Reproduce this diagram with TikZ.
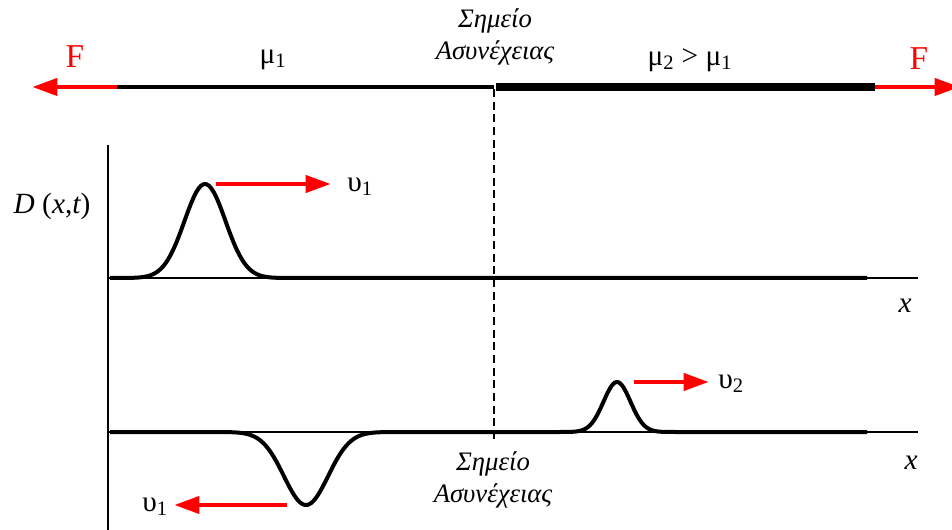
\documentclass[tikz,border=0pt]{standalone}
\usepackage{fontspec}
\setmainfont{Liberation Serif}
\usetikzlibrary{arrows.meta}
\begin{document}
\begin{tikzpicture}[x=0.75pt,y=-0.75pt,
  redarrow/.style={draw=red, line width=3.7pt, -{Triangle[length=19pt,width=12.5pt]}},
  axisline/.style={draw=black, line width=1.8pt},
  wave/.style={draw=black, line width=3pt, line join=round},
  lbl/.style={inner sep=0pt, font=\fontsize{22pt}{24pt}\selectfont},
  flbl/.style={inner sep=0pt, text=red, font=\fontsize{25pt}{27pt}\selectfont},
  greek/.style={inner sep=0pt, align=center, font=\fontsize{20pt}{24pt}\selectfont\itshape},
  xlbl/.style={inner sep=0pt, font=\fontsize{22pt}{24pt}\selectfont\itshape}
]
\useasboundingbox (0,0) rectangle (952,530);

% top string
\coordinate (sL) at (117,87);
\coordinate (sM) at (494,87);
\coordinate (sM2) at (496,87);
\coordinate (sR) at (875,87);
\coordinate (fL) at (32,87);
\coordinate (fR) at (960,87);
\draw[black, line width=2.6pt] (sL) -- (sM);
\draw[black, line width=5.5pt] (sM2) -- (sR);
\draw[redarrow] (sL) -- (fL);
\draw[redarrow] (sR) -- (fR);
\node[flbl] (F1) at (75,57) {F};
\node[flbl] (F2) at (919,59) {F};
\node[lbl] (mu1) at (273,60) {μ\textsubscript{1}};
\node[lbl] (mu2) at (690,60) {μ\textsubscript{2} > μ\textsubscript{1}};
\node[greek] (dtop) at (495,37) {Σημείο\\Ασυνέχειας};

% dashed discontinuity line
\coordinate (dA) at (494,89);
\coordinate (dB) at (494,443);
\draw[black, line width=1.1pt, dash pattern=on 6pt off 3.5pt] (dA) -- (dB);

% axes
\coordinate (vA) at (108,145);
\coordinate (vB) at (108,530);
\draw[axisline] (vA) -- (vB);
\coordinate (a1L) at (108,278);
\coordinate (a1R) at (918,278);
\draw[axisline] (a1L) -- (a1R);
\coordinate (a2L) at (108,432);
\coordinate (a2R) at (918,432);
\draw[axisline] (a2L) -- (a2R);

% top pulse
\draw[wave] plot[domain=110:867, samples=300]
  (\x, {278 - 94*exp(-min(30,((\x-205)/20.5)^2/2))});
% bottom: reflected (inverted) pulse and transmitted pulse
\draw[wave] plot[domain=110:867, samples=400]
  (\x, {432 + 73*exp(-min(30,((\x-306)/22)^2/2)) - 50*exp(-min(30,((\x-617)/13.5)^2/2))});

\node[inner sep=0pt, font=\fontsize{22pt}{24pt}\selectfont\itshape] (D) at (52,206) {D \upshape(\itshape x\upshape,\itshape t\upshape)};
\node[xlbl] (x1) at (905,306) {x};
\node[xlbl] (x2) at (911,463) {x};

% velocity arrows
\coordinate (v1a) at (216,184);
\coordinate (v1b) at (331,184);
\draw[redarrow] (v1a) -- (v1b);
\node[lbl] (u1) at (360,187) {υ\textsubscript{1}};

\coordinate (v2a) at (634,382);
\coordinate (v2b) at (709,382);
\draw[redarrow] (v2a) -- (v2b);
\node[lbl] (u2) at (731,384) {υ\textsubscript{2}};

\coordinate (v3a) at (287,505);
\coordinate (v3b) at (174,505);
\draw[redarrow] (v3a) -- (v3b);
\node[lbl] (u3) at (155,507) {υ\textsubscript{1}};

\node[greek] (dbot) at (493,480) {Σημείο\\Ασυνέχειας};
\end{tikzpicture}
\end{document}
